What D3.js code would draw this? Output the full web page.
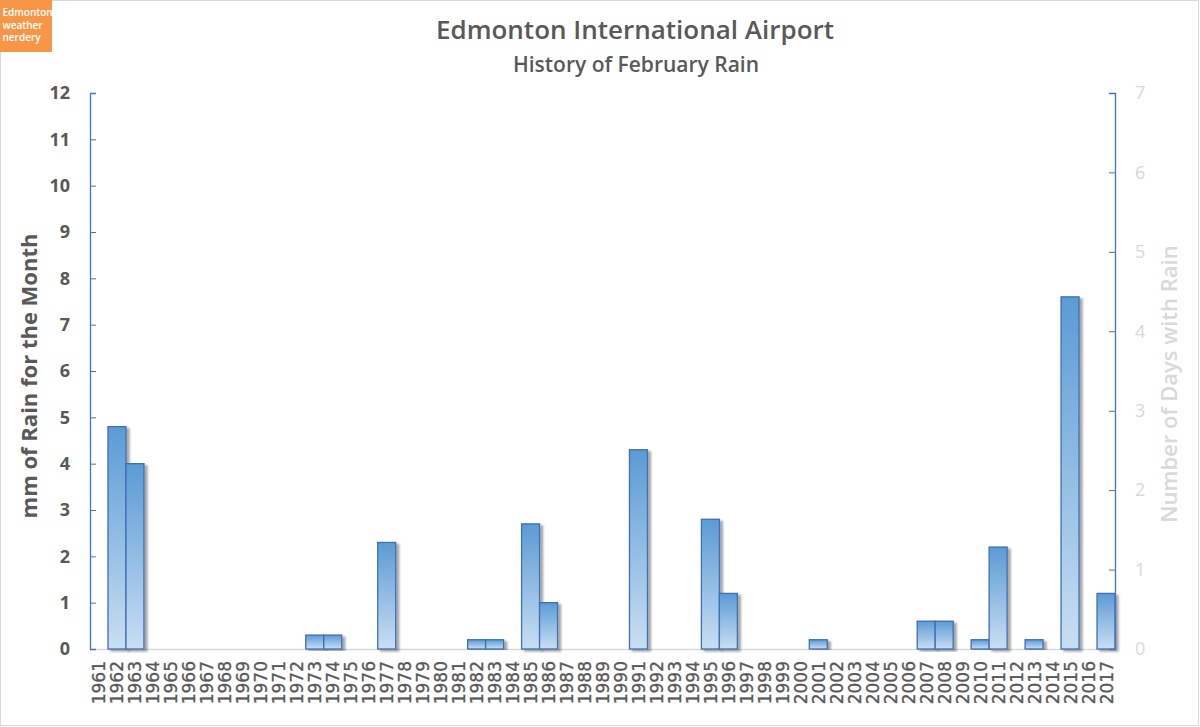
<!DOCTYPE html>
<html><head><meta charset="utf-8">
<script src="https://cdn.jsdelivr.net/npm/d3@7"></script>
<style>body{margin:0;background:#fff;} svg{display:block;font-family:"Open Sans",sans-serif;}</style>
</head><body><svg id="c" width="1200" height="727"></svg>
<script>
const years = d3.range(1961, 2018).map(String);
const rainYears = ["1962","1963","1973","1974","1977","1982","1983","1985","1986","1991","1995","1996","2001","2007","2008","2010","2011","2013","2015","2017"];
const rainValues = [4.8,4.0,0.3,0.3,2.3,0.2,0.2,2.7,1.0,4.3,2.8,1.2,0.2,0.6,0.6,0.2,2.2,0.2,7.6,1.2];
const leftTicks = [0,1,2,3,4,5,6,7,8,9,10,11,12];
const rightTicks = [0,1,2,3,4,5,6,7];
const title = "Edmonton International Airport";
const subtitle = "History of February Rain";
const leftTitle = "mm of Rain for the Month";
const rightTitle = "Number of Days with Rain";

const data = years.map(y => { const i = rainYears.indexOf(y); return {year:y, v: i<0?0:rainValues[i]}; });

const svg = d3.select("#c");
const L = 90, R = 1115, T = 93, B = 649;
const x = d3.scaleBand().domain(years).range([L, R]).padding(0);
const y = d3.scaleLinear().domain([0,12]).range([B, T]);
const y2 = d3.scaleLinear().domain([0,7]).range([B, T]);

const defs = svg.append("defs");
const g = defs.append("linearGradient").attr("id","bg").attr("x1",0).attr("y1",0).attr("x2",0).attr("y2",1);
g.append("stop").attr("offset","0%").attr("stop-color","#5b9bd5");
g.append("stop").attr("offset","100%").attr("stop-color","#c9def3");
const f = defs.append("filter").attr("id","sh").attr("x","-20%").attr("y","-5%").attr("width","160%").attr("height","115%");
f.append("feDropShadow").attr("dx",3).attr("dy",2).attr("stdDeviation",1.2).attr("flood-color","#000").attr("flood-opacity",0.35);

// frame
svg.append("rect").attr("x",0.5).attr("y",0.5).attr("width",1198).attr("height",725).attr("fill","none").attr("stroke","#d9d9d9");

// logo
svg.append("rect").attr("x",0).attr("y",0).attr("width",52).attr("height",52).attr("fill","#f79646");
["Edmonton","weather","nerdery"].forEach((t,i)=>svg.append("text").attr("x",2.5).attr("y",16+i*12.5).attr("fill","#fff").attr("font-size",10).attr("font-weight",600).text(t));

// titles
svg.append("text").attr("x",635).attr("y",39).attr("text-anchor","middle").attr("fill","#595959").attr("font-size",26).attr("font-weight",600).text(title);
svg.append("text").attr("x",636).attr("y",72).attr("text-anchor","middle").attr("fill","#595959").attr("font-size",21).attr("font-weight",600).text(subtitle);

// bottom axis line
svg.append("line").attr("x1",L).attr("x2",R).attr("y1",B+0.5).attr("y2",B+0.5).attr("stroke","#d9d9d9").attr("stroke-width",1.5);

// bars
svg.append("g").selectAll("rect").data(data.filter(d=>d.v>0)).join("rect")
  .attr("x",d=>x(d.year)).attr("width",x.bandwidth())
  .attr("y",d=>y(d.v)).attr("height",d=>B-y(d.v))
  .attr("fill","url(#bg)").attr("stroke","#3f6fb5").attr("stroke-width",1.3)
  .attr("filter","url(#sh)");

// left axis
const la = svg.append("g").attr("transform",`translate(${L},0)`)
  .call(d3.axisLeft(y).tickValues(leftTicks).tickSize(-6).tickPadding(20).tickFormat(d3.format("d")));
la.select(".domain").attr("stroke","#4472c4").attr("stroke-width",1.3);
la.selectAll(".tick line").attr("stroke","#4472c4");
la.selectAll("text").attr("fill","#595959").attr("font-size",18).attr("font-weight",700).attr("font-family","Open Sans");

// right axis
const ra = svg.append("g").attr("transform",`translate(${R},0)`)
  .call(d3.axisRight(y2).tickValues(rightTicks).tickSize(-6).tickPadding(20).tickFormat(d3.format("d")));
ra.select(".domain").attr("stroke","#4472c4").attr("stroke-width",1.3);
ra.selectAll(".tick line").attr("stroke","#4472c4");
ra.selectAll("text").attr("fill","#d9d9d9").attr("font-size",18).attr("font-family","Open Sans");

// x labels
svg.append("g").selectAll("text").data(years).join("text")
  .attr("transform",d=>`translate(${x(d)+x.bandwidth()/2+6.5},${B+12}) rotate(-90)`)
  .attr("text-anchor","end").attr("fill","#595959").attr("stroke","#595959").attr("stroke-width",0.35)
  .attr("font-size",17).attr("font-family","DejaVu Sans").text(d=>d);

// axis titles
svg.append("text").attr("transform",`translate(37,${376}) rotate(-90)`).attr("text-anchor","middle")
  .attr("fill","#595959").attr("font-size",22).attr("font-weight",700).text(leftTitle);
svg.append("text").attr("transform",`translate(1177,${384}) rotate(-90)`).attr("text-anchor","middle")
  .attr("fill","#d9d9d9").attr("font-size",22).attr("font-weight",600).text(rightTitle);
</script></body></html>
